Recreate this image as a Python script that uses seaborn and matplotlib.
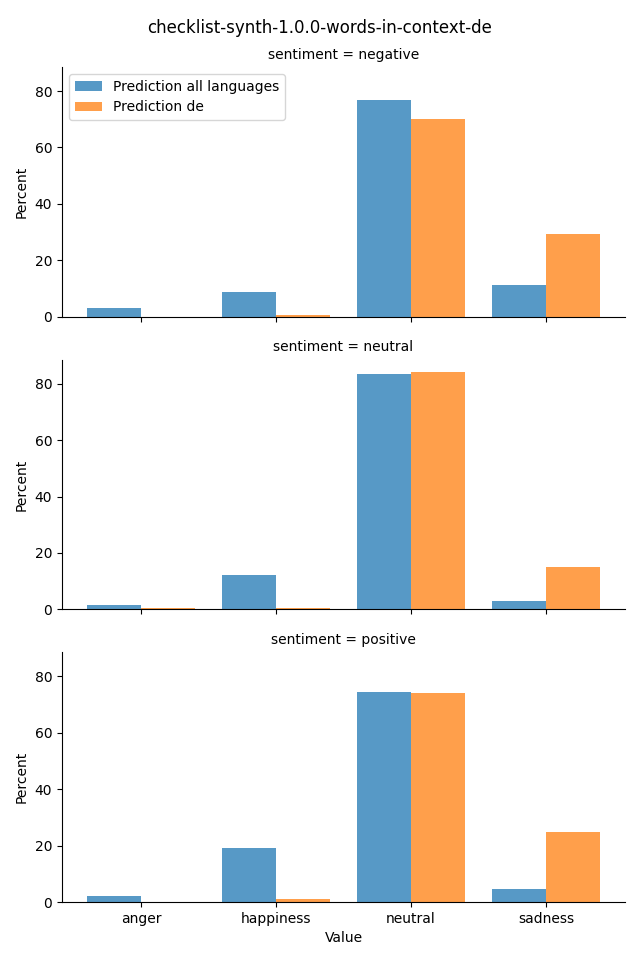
import matplotlib.pyplot as plt
import matplotlib.patches as mpatches
import pandas as pd
import seaborn as sns

# values
sentiments = ["negative", "neutral", "positive"]
emotions = ["anger", "happiness", "neutral", "sadness"]
series = ["Prediction all languages", "Prediction de"]

all_languages = {
    "negative": [3.2, 8.9, 76.7, 11.2],
    "neutral": [1.4, 12.1, 83.6, 2.9],
    "positive": [2.0, 19.1, 74.3, 4.6],
}
de = {
    "negative": [0.0, 0.6, 70.0, 29.4],
    "neutral": [0.4, 0.4, 84.3, 14.9],
    "positive": [0.0, 1.0, 74.2, 24.8],
}

rows = []
for s in sentiments:
    for name, vals in zip(series, [all_languages[s], de[s]]):
        for emo, v in zip(emotions, vals):
            rows.append({"sentiment": s, "Value": emo, "Percent": v, "model": name})
df = pd.DataFrame(rows)

colors = ["#1f77b4", "#ff7f0e"]
alpha = 0.75

g = sns.catplot(
    data=df, kind="bar", row="sentiment", x="Value", y="Percent",
    hue="model", hue_order=series, order=emotions, row_order=sentiments,
    palette=colors, saturation=1, alpha=alpha, linewidth=0,
    legend=False, height=3, aspect=2,
)
g.figure.set_size_inches(6.4, 9.6)
g.figure.subplots_adjust(left=62 / 640, right=625 / 640,
                         top=1 - 67 / 960, bottom=1 - 902 / 960, hspace=0.172)
g.set_titles("sentiment = {row_name}")
g.set(xlim=(-0.585, 3.585))
g.figure.suptitle("checklist-synth-1.0.0-words-in-context-de", fontsize=12, y=0.98)

handles = [mpatches.Patch(facecolor=c, alpha=alpha, linewidth=0, label=n)
           for c, n in zip(colors, series)]
g.axes[0, 0].legend(handles=handles, loc="upper left")

g.figure.savefig("out.png", dpi=100)
